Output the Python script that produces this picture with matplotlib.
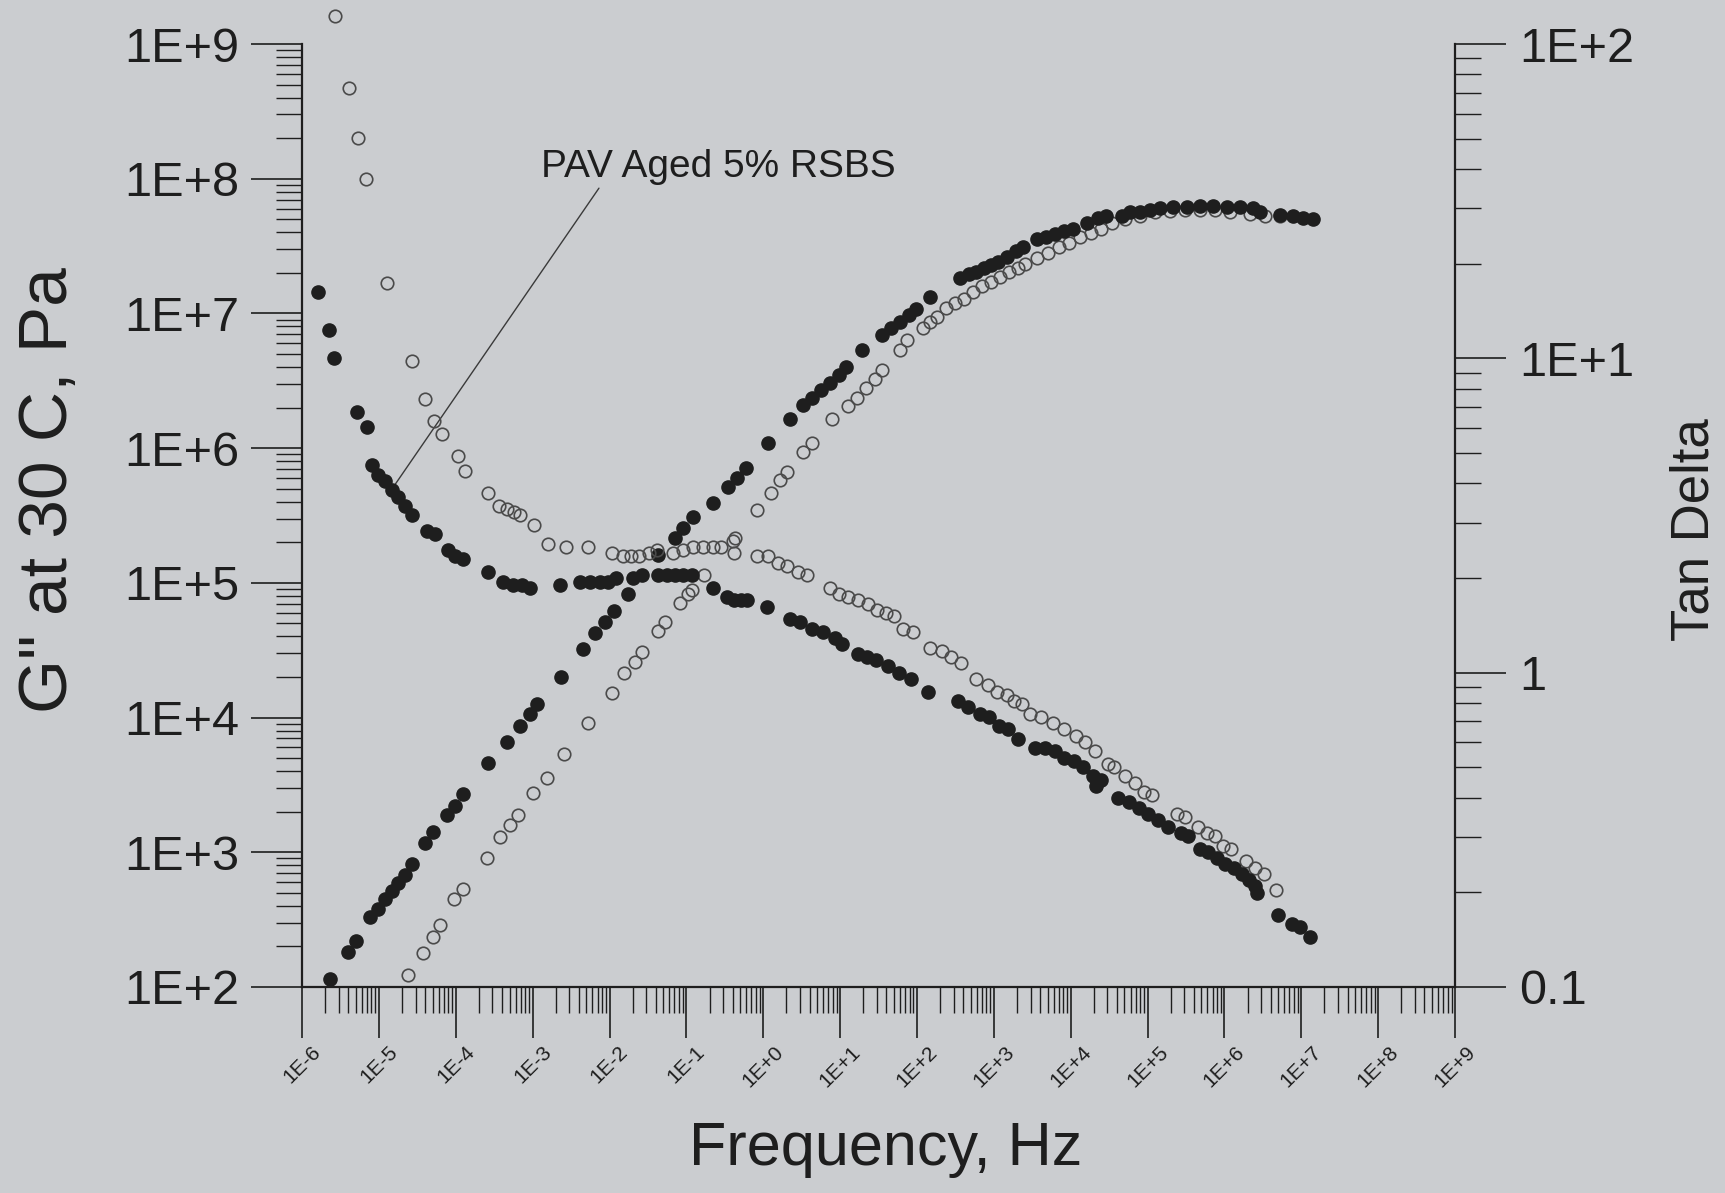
import numpy as np
import matplotlib.pyplot as plt
from matplotlib.ticker import LogLocator, FuncFormatter, FixedLocator, FixedFormatter, NullFormatter

plt.rcParams['font.family'] = ['Liberation Sans', 'DejaVu Sans']

# G'' loss modulus, log10 of frequency (Hz) and log10 of G'' (Pa)
log_f_gpp_filled = [-5.63, -5.40, -5.30, -5.12, -5.01, -4.92, -4.83, -4.75, -4.66, -4.57,
                    -4.40, -4.29, -4.12, -4.01, -3.90, -3.58, -3.34, -3.16, -3.03, -2.94,
                    -2.63, -2.35, -2.19, -2.06, -1.94, -1.76, -1.58, -1.37, -1.15, -1.04,
                    -0.91, -0.65, -0.46, -0.34, -0.22, 0.06, 0.35, 0.52, 0.63, 0.75,
                    0.87, 0.99, 1.08, 1.29, 1.55, 1.66, 1.78, 1.90, 1.99, 2.17,
                    2.56, 2.68, 2.77, 2.87, 2.96, 3.05, 3.17, 3.29, 3.38, 3.56,
                    3.68, 3.80, 3.91, 4.03, 4.21, 4.36, 4.46, 4.67, 4.77, 4.90,
                    5.03, 5.16, 5.33, 5.51, 5.68, 5.85, 6.03, 6.20, 6.37, 6.46,
                    6.72, 6.89, 7.02, 7.15]
log_gpp_filled = [2.06, 2.26, 2.34, 2.52, 2.58, 2.65, 2.71, 2.77, 2.83, 2.91,
                  3.07, 3.15, 3.28, 3.34, 3.43, 3.66, 3.82, 3.94, 4.03, 4.10,
                  4.30, 4.51, 4.63, 4.71, 4.79, 4.92, 5.06, 5.21, 5.33, 5.41,
                  5.49, 5.59, 5.71, 5.78, 5.85, 6.04, 6.22, 6.32, 6.37, 6.43,
                  6.48, 6.54, 6.60, 6.73, 6.84, 6.89, 6.94, 6.99, 7.03, 7.12,
                  7.26, 7.29, 7.31, 7.34, 7.36, 7.38, 7.42, 7.46, 7.49, 7.55,
                  7.57, 7.59, 7.61, 7.63, 7.67, 7.71, 7.72, 7.72, 7.75, 7.75,
                  7.77, 7.78, 7.79, 7.79, 7.80, 7.80, 7.79, 7.79, 7.78, 7.75,
                  7.73, 7.72, 7.71, 7.70]

log_f_gpp_open = [-4.62, -4.43, -4.30, -4.21, -4.02, -3.90, -3.60, -3.42, -3.29, -3.19,
                  -2.99, -2.81, -2.59, -2.28, -1.97, -1.81, -1.67, -1.58, -1.37, -1.28,
                  -1.08, -0.98, -0.93, -0.77, -0.37, -0.08, 0.10, 0.22, 0.31, 0.52,
                  0.63, 0.90, 1.10, 1.22, 1.34, 1.45, 1.55, 1.78, 1.87, 2.08,
                  2.17, 2.26, 2.38, 2.50, 2.61, 2.73, 2.85, 2.96, 3.08, 3.20,
                  3.31, 3.41, 3.56, 3.71, 3.85, 3.98, 4.12, 4.26, 4.39, 4.54,
                  4.71, 4.90, 5.10, 5.29, 5.49, 5.68, 5.88, 6.07, 6.33, 6.53,
                  6.72]
log_gpp_open = [2.09, 2.25, 2.37, 2.46, 2.65, 2.73, 2.96, 3.11, 3.20, 3.28,
                3.44, 3.55, 3.73, 3.96, 4.18, 4.33, 4.41, 4.49, 4.64, 4.71,
                4.85, 4.92, 4.95, 5.06, 5.33, 5.54, 5.67, 5.76, 5.82, 5.97,
                6.04, 6.22, 6.31, 6.37, 6.45, 6.51, 6.58, 6.73, 6.80, 6.89,
                6.94, 6.97, 7.04, 7.08, 7.11, 7.16, 7.20, 7.23, 7.27, 7.31,
                7.34, 7.37, 7.41, 7.45, 7.49, 7.52, 7.57, 7.60, 7.63, 7.67,
                7.70, 7.72, 7.75, 7.76, 7.77, 7.77, 7.77, 7.75, 7.74, 7.72,
                7.72]

# tan delta, log10 of frequency (Hz) and log10 of tan delta
log_f_tan_filled = [-5.79, -5.65, -5.58, -5.29, -5.15, -5.09, -5.01, -4.92, -4.83, -4.75,
                    -4.66, -4.57, -4.38, -4.27, -4.10, -4.01, -3.90, -3.58, -3.39, -3.26,
                    -3.14, -3.03, -2.64, -2.38, -2.25, -2.12, -2.02, -1.91, -1.69, -1.37,
                    -1.25, -1.15, -1.04, -0.93, -0.65, -0.47, -0.38, -0.29, -0.21, 0.05,
                    0.35, 0.48, 0.63, 0.78, 0.93, 1.03, 1.23, 1.35, 1.47, 1.62,
                    1.77, 1.92, 2.14, 2.54, 2.67, 2.82, 2.94, 3.07, 3.19, 3.31,
                    3.54, 3.67, 3.79, 3.91, 4.04, 4.16, 4.29, 4.39, 4.33, 4.61,
                    4.76, 4.89, 5.01, 5.13, 5.26, 5.43, 5.53, 5.68, 5.79, 5.90,
                    6.01, 6.12, 6.23, 6.32, 6.40, 6.42, 6.70, 6.88, 6.98, 7.11]
log_tan_filled = [1.21, 1.09, 1.00, 0.83, 0.78, 0.66, 0.63, 0.61, 0.58, 0.56,
                  0.53, 0.50, 0.45, 0.44, 0.39, 0.37, 0.36, 0.32, 0.29, 0.28,
                  0.28, 0.27, 0.28, 0.29, 0.29, 0.29, 0.29, 0.30, 0.30, 0.31,
                  0.31, 0.31, 0.31, 0.31, 0.27, 0.24, 0.23, 0.23, 0.23, 0.21,
                  0.17, 0.16, 0.14, 0.13, 0.11, 0.09, 0.06, 0.05, 0.04, 0.02,
                  0.00, -0.02, -0.06, -0.09, -0.11, -0.13, -0.14, -0.17, -0.18, -0.21,
                  -0.24, -0.24, -0.25, -0.27, -0.28, -0.30, -0.33, -0.34, -0.36, -0.40,
                  -0.41, -0.43, -0.45, -0.47, -0.49, -0.51, -0.52, -0.56, -0.57, -0.59,
                  -0.61, -0.62, -0.64, -0.66, -0.68, -0.70, -0.77, -0.80, -0.81, -0.84]

log_f_tan_open = [-5.57, -5.39, -5.27, -5.17, -4.89, -4.57, -4.40, -4.28, -4.18, -3.97,
                  -3.88, -3.58, -3.44, -3.33, -3.24, -3.16, -2.98, -2.80, -2.57, -2.28,
                  -1.97, -1.82, -1.72, -1.62, -1.49, -1.38, -1.17, -1.04, -0.91, -0.78,
                  -0.65, -0.55, -0.39, -0.38, -0.08, 0.06, 0.19, 0.31, 0.45, 0.57,
                  0.87, 0.99, 1.10, 1.23, 1.36, 1.48, 1.60, 1.70, 1.82, 1.95,
                  2.17, 2.33, 2.44, 2.57, 2.77, 2.92, 3.04, 3.17, 3.26, 3.37,
                  3.47, 3.61, 3.77, 3.91, 4.07, 4.19, 4.32, 4.49, 4.56, 4.71,
                  4.84, 4.95, 5.06, 5.38, 5.49, 5.66, 5.77, 5.88, 5.98, 6.09,
                  6.28, 6.40, 6.51, 6.67]
log_tan_open = [2.09, 1.86, 1.70, 1.57, 1.24, 0.99, 0.87, 0.80, 0.76, 0.69,
                0.64, 0.57, 0.53, 0.52, 0.51, 0.50, 0.47, 0.41, 0.40, 0.40,
                0.38, 0.37, 0.37, 0.37, 0.38, 0.39, 0.38, 0.39, 0.40, 0.40,
                0.40, 0.40, 0.42, 0.38, 0.37, 0.37, 0.35, 0.34, 0.32, 0.31,
                0.27, 0.25, 0.24, 0.23, 0.22, 0.20, 0.19, 0.18, 0.14, 0.13,
                0.08, 0.07, 0.05, 0.03, -0.02, -0.04, -0.06, -0.07, -0.09, -0.10,
                -0.13, -0.14, -0.16, -0.18, -0.20, -0.22, -0.25, -0.29, -0.30, -0.33,
                -0.35, -0.38, -0.39, -0.45, -0.46, -0.49, -0.51, -0.52, -0.55, -0.56,
                -0.60, -0.62, -0.64, -0.69]

tan_ticks = [0.1, 1, 10, 100]
tan_labels = ['0.1', '1', '1E+1', '1E+2']

bg = '#cbcdd0'
ink = '#1e1e1e'
ring = '#4a4a4a'

fig = plt.figure(figsize=(17.25, 11.93), dpi=100, facecolor=bg)
ax = fig.add_axes([0.1751, 0.1727, 0.6684, 0.7904])
ax.set_facecolor('none')
tx = ax.twinx()

# G'' curves on the left axis
ax.plot(10 ** np.array(log_f_gpp_open), 10 ** np.array(log_gpp_open), ls='none',
        marker='o', ms=9, mfc='none', mec=ring, mew=1.2, clip_on=False)
ax.plot(10 ** np.array(log_f_gpp_filled), 10 ** np.array(log_gpp_filled), ls='none',
        marker='o', ms=9.5, color=ink, mec=ink, clip_on=False)

# tan delta curves on the right axis
tx.plot(10 ** np.array(log_f_tan_open), 10 ** np.array(log_tan_open), ls='none',
        marker='o', ms=9, mfc='none', mec=ring, mew=1.2, clip_on=False)
tx.plot(10 ** np.array(log_f_tan_filled), 10 ** np.array(log_tan_filled), ls='none',
        marker='o', ms=9.5, color=ink, mec=ink, clip_on=False)

ax.set_xscale('log')
ax.set_yscale('log')
tx.set_yscale('log')
ax.set_xlim(1e-6, 1e9)
ax.set_ylim(1e2, 1e9)
tx.set_ylim(0.1, 100)

decade_fmt = FuncFormatter(lambda v, pos: f'1E{int(round(np.log10(v))):+d}')
minor = np.arange(2, 10)

ax.xaxis.set_major_locator(LogLocator(base=10, numticks=40))
ax.xaxis.set_minor_locator(LogLocator(base=10, subs=minor, numticks=200))
ax.xaxis.set_major_formatter(decade_fmt)
ax.xaxis.set_minor_formatter(NullFormatter())
ax.yaxis.set_major_locator(LogLocator(base=10, numticks=40))
ax.yaxis.set_minor_locator(LogLocator(base=10, subs=minor, numticks=200))
ax.yaxis.set_major_formatter(decade_fmt)
ax.yaxis.set_minor_formatter(NullFormatter())

tx.yaxis.set_major_locator(FixedLocator(tan_ticks))
tx.yaxis.set_major_formatter(FixedFormatter(tan_labels))
tx.yaxis.set_minor_locator(LogLocator(base=10, subs=minor, numticks=200))
tx.yaxis.set_minor_formatter(NullFormatter())

for sp in ['top', 'right']:
    ax.spines[sp].set_visible(False)
for sp in ['top', 'left', 'bottom']:
    tx.spines[sp].set_visible(False)
for sp in [ax.spines['left'], ax.spines['bottom'], tx.spines['right']]:
    sp.set_linewidth(1.6)
    sp.set_color(ink)

ax.tick_params(which='major', direction='out', length=37, width=1.2, color=ink, labelcolor=ink)
ax.tick_params(which='minor', direction='out', length=19, width=1.0, color=ink)
ax.tick_params(axis='x', which='major', labelsize=15, labelrotation=45, pad=3)
ax.tick_params(axis='y', which='major', labelsize=35, pad=8)
tx.tick_params(which='major', direction='out', length=37, width=1.2, color=ink,
               labelcolor=ink, labelsize=35, pad=9)
tx.tick_params(which='minor', direction='out', length=19, width=1.0, color=ink)

ax.set_xlabel('Frequency, Hz', fontsize=44, color=ink)
ax.xaxis.set_label_coords(0.506, -0.142)
ax.set_ylabel('G" at 30 C, Pa', fontsize=50, color=ink)
ax.yaxis.set_label_coords(-0.192, 0.527)
tx.set_ylabel('Tan Delta', fontsize=38, color=ink)
tx.yaxis.set_label_coords(1.186, 0.485)

ax.annotate('PAV Aged 5% RSBS', xy=(10 ** -4.79, 10 ** 5.73), xytext=(10 ** -0.59, 10 ** 8.01),
            ha='center', va='baseline', fontsize=28, color=ink,
            arrowprops=dict(arrowstyle='-', color='#3a3a3a', lw=1.0,
                            shrinkA=0, shrinkB=0, relpos=(0.17, 0)))

fig.savefig('out.png', dpi=100, facecolor=bg)
